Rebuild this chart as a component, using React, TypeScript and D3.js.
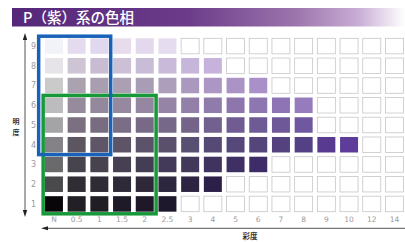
import React from 'react';
import * as d3 from 'd3';

// chroma (彩度) columns and value (明度) rows
const chromaLabels = ['N', '0.5', '1', '1.5', '2', '2.5', '3', '4', '5', '6', '7', '8', '9', '10', '12', '14'];
const valueLabels = ['9', '8', '7', '6', '5', '4', '3', '2', '1'];

// swatch colours per value row, from N upward (cells past the end are empty)
const value9 = ['#f2f3f8', '#e4dcee', '#e0d8ee', '#e6dcec', '#e3d8ec', '#e6dcef'];
const value8 = ['#e6e4e8', '#cdc4d4', '#c8bcd2', '#ccc0d6', '#c8bcd6', '#c8bad8', '#c6b6da', '#c6b2da'];
const value7 = ['#cacaca', '#aba2b0', '#a89eb0', '#ab9fb4', '#a99cb5', '#ad9fbc', '#aa98be', '#ab96c4', '#aa94c6', '#a990c8'];
const value6 = ['#bcbcbe', '#958b9c', '#94889c', '#95889f', '#9586a2', '#9584a6', '#9280a8', '#907caa', '#8c76ac', '#8e76b0', '#8e74b4', '#967cbc'];
const value5 = ['#a4a4a6', '#7a7080', '#776c80', '#7a6e86', '#786a86', '#766888', '#74648a', '#72608e', '#705c92', '#6e5a94', '#6e5898', '#7058a0'];
const value4 = ['#848286', '#5c5660', '#5e5666', '#5e5468', '#5c526a', '#5a506c', '#585070', '#564a74', '#564878', '#54467a', '#54427e', '#544084', '#583a90', '#5e3c9a'];
const value3 = ['#6a6a6c', '#48444e', '#48424e', '#464052', '#443e54', '#423a58', '#42385a', '#40345e', '#3e3062', '#3e2c68'];
const value2 = ['#4a4a4c', '#302e34', '#302c36', '#2e2a38', '#2e283a', '#2c263e', '#2c2442', '#2c2048'];
const value1 = ['#080608', '#222024', '#201e24', '#1e1a28', '#1e1828', '#1e182c'];
const rows = [value9, value8, value7, value6, value5, value4, value3, value2, value1];

// highlighted ranges: [first chroma, last chroma, top value, bottom value]
const blueRange = ['N', '1', '9', '4'];
const greenRange = ['N', '2', '6', '1'];

const W = 405;
const H = 242;
const jp = '"Noto Sans CJK JP", sans-serif';

const App: React.FC = () => {
  const x = d3.scaleBand<string>().domain(chromaLabels).range([42.6, 405.8]).paddingInner(0.207).paddingOuter(0.1035);
  const y = d3.scaleBand<string>().domain(valueLabels).range([36.2, 213.8]).paddingInner(0.214).paddingOuter(0.107);

  const gapX = (x.step() - x.bandwidth()) / 2;
  const gapY = (y.step() - y.bandwidth()) / 2;

  const box = (r: string[], extraLeft: number) => {
    const x0 = (x(r[0]) ?? 0) - extraLeft;
    const x1 = (x(r[1]) ?? 0) + x.bandwidth() + gapX;
    const y0 = (y(r[2]) ?? 0) - gapY;
    const y1 = (y(r[3]) ?? 0) + y.bandwidth() + gapY;
    return { x: x0, y: y0, width: x1 - x0, height: y1 - y0 };
  };
  const blue = box(blueRange, 6.3);
  const green = box(greenRange, 1.8);

  const axisX = 25;
  const axisY = 228.3;

  return (
    <svg width={W} height={H} style={{ position: 'absolute', left: 0, top: 0, background: '#fff' }}>
      <defs>
        <linearGradient id="titleGrad" x1="0" x2="1" y1="0" y2="0">
          <stop offset="0%" stopColor="#55277a" />
          <stop offset="45%" stopColor="#6c3c8a" />
          <stop offset="72%" stopColor="#9c74ac" />
          <stop offset="88%" stopColor="#c8acd4" />
          <stop offset="100%" stopColor="#ffffff" />
        </linearGradient>
      </defs>

      {/* title bar */}
      <rect x={12} y={8} width={W - 12} height={18.5} fill="url(#titleGrad)" />
      <text x={23} y={22.8} fill="#fff" fontFamily={jp} fontSize={14.5} fontWeight={500}>
        P（紫）系の色相
      </text>

      {/* grid */}
      {valueLabels.map((v, ri) =>
        chromaLabels.map((c, ci) => {
          const color = rows[ri][ci];
          return (
            <rect
              key={v + '-' + c}
              x={x(c)}
              y={y(v)}
              width={x.bandwidth()}
              height={y.bandwidth()}
              fill={color ?? '#fff'}
              stroke={color ? 'none' : '#c6c6c6'}
              strokeWidth={0.8}
            />
          );
        })
      )}

      {/* highlight boxes */}
      <rect {...green} fill="none" stroke="#17993a" strokeWidth={3.5} />
      <rect {...blue} fill="none" stroke="#1a62b8" strokeWidth={3.5} />

      {/* value axis */}
      <line x1={axisX} x2={axisX} y1={38} y2={212} stroke="#555" strokeWidth={1} />
      <path d={`M${axisX} 33 L${axisX - 2.2} 40 L${axisX + 2.2} 40 Z`} fill="#222" />
      <path d={`M${axisX} 217 L${axisX - 2.2} 210 L${axisX + 2.2} 210 Z`} fill="#222" />
      {valueLabels.map(v => (
        <text key={v} x={33.5} y={(y(v) ?? 0) + y.bandwidth() / 2} dy="0.35em" textAnchor="middle"
          fontFamily="DejaVu Sans, sans-serif" fontSize={8} fill="#9a9a9a">
          {v}
        </text>
      ))}
      <text x={16} y={124} textAnchor="middle" fontFamily={jp} fontSize={7} fontWeight={700} fill="#333">明</text>
      <text x={16} y={134.5} textAnchor="middle" fontFamily={jp} fontSize={7} fontWeight={700} fill="#333">度</text>

      {/* chroma axis */}
      <line x1={46} x2={W} y1={axisY} y2={axisY} stroke="#555" strokeWidth={1} />
      <path d={`M41 ${axisY} L48 ${axisY - 2} L48 ${axisY + 2} Z`} fill="#222" />
      {chromaLabels.map(c => (
        <text key={c} x={(x(c) ?? 0) + x.bandwidth() / 2} y={219.5} dy="0.35em" textAnchor="middle"
          fontFamily="DejaVu Sans, sans-serif" fontSize={7.5} fill="#9a9a9a">
          {c}
        </text>
      ))}
      <text x={250} y={239} textAnchor="middle" fontFamily={jp} fontSize={7.5} fontWeight={700} fill="#333">彩度</text>
    </svg>
  );
};

export default App;
